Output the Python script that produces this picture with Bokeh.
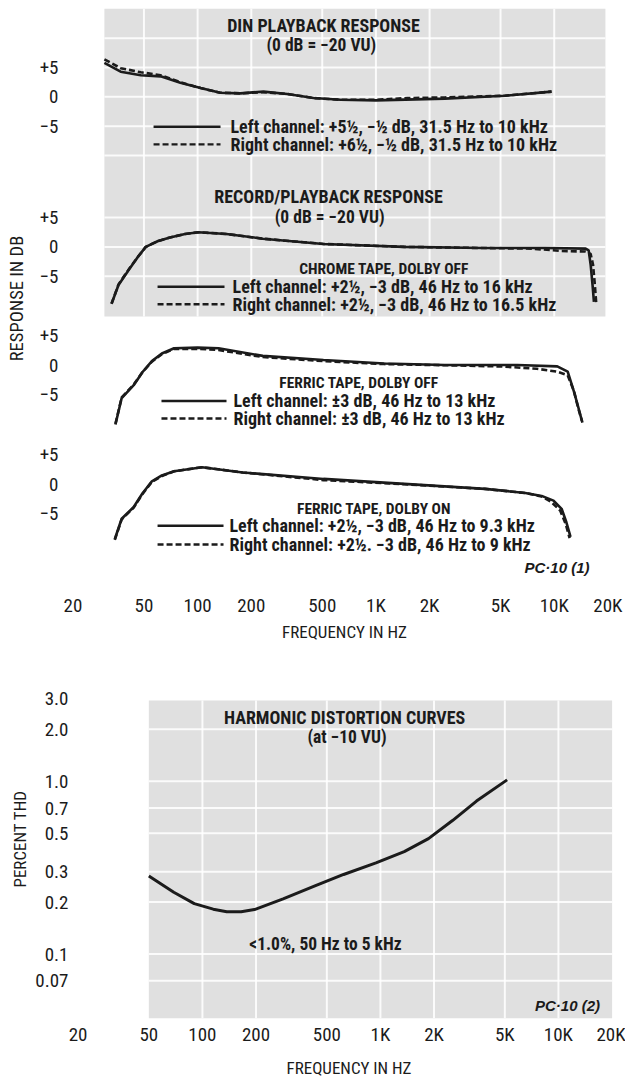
import math
from bokeh.plotting import figure
from bokeh.layouts import column, row
from bokeh.models import FixedTicker, Label, Range1d
from bokeh.core.properties import value
from bokeh.embed import file_html
from bokeh.resources import INLINE

NARROW = "Roboto Condensed"
SANS = "Liberation Sans"
INK = "#1b1b1b"
PAPER = "#e0e0e0"

# ---------------- data ----------------
freq_ticks = [20, 50, 100, 200, 500, 1000, 2000, 5000, 10000, 20000]
freq_tick_labels = ["20", "50", "100", "200", "500", "1K", "2K", "5K", "10K", "20K"]
db_ticks = [5, 0, -5]
db_tick_labels = ["+5", "0", "\u22125"]

# DIN playback response (dB)
din_left_hz = [30, 37, 48, 62, 80, 104, 134, 174, 234, 318, 447, 633, 1000, 2430, 5300, 9660]
din_left_db = [5.8, 4.3, 3.7, 3.5, 2.4, 1.5, 0.7, 0.6, 0.9, 0.5, -0.2, -0.5, -0.6, -0.3, 0.2, 0.9]
din_right_hz = [30, 37, 48, 62, 80, 104, 134, 174, 234, 318, 447, 633, 1000, 1500, 2430, 5300, 9660]
din_right_db = [6.4, 4.9, 4.2, 3.7, 2.5, 1.5, 0.7, 0.6, 0.8, 0.5, -0.2, -0.5, -0.5, -0.2, -0.1, 0.2, 0.9]

# Record/playback, chrome tape, Dolby off
chrome_left_hz = [32.9, 36, 41.6, 46, 51.2, 60, 70, 85, 101, 145, 232, 508, 1440, 4090, 8900, 15000, 15600, 16000, 16400, 16700]
chrome_left_db = [-9.7, -6.5, -3.7, -1.8, 0.0, 1.0, 1.6, 2.2, 2.5, 2.2, 1.4, 0.5, 0.0, -0.2, -0.2, -0.3, -0.6, -3.0, -6.5, -9.4]
chrome_right_hz = [32.9, 36, 41.6, 46, 51.2, 60, 70, 85, 101, 145, 232, 508, 1440, 4090, 7500, 11000, 15000, 16000, 16500, 16900, 17200]
chrome_right_db = [-9.7, -6.4, -3.6, -1.8, 0.0, 1.0, 1.6, 2.2, 2.5, 2.2, 1.4, 0.5, 0.0, -0.2, -0.3, -0.7, -0.8, -1.2, -3.0, -6.5, -9.6]

# Ferric tape, Dolby off
ferric_off_left_hz = [34.6, 37.5, 43.8, 49, 55.4, 63, 73.8, 100, 131, 232, 508, 1110, 2430, 6210, 10400, 11900, 12900, 13600, 14300]
ferric_off_left_db = [-10.1, -5.6, -3.4, -1.2, 0.7, 2.0, 2.9, 3.0, 2.9, 1.6, 0.9, 0.3, 0.05, 0.05, -0.2, -1.1, -4.5, -7.0, -9.5]
ferric_off_right_hz = [34.6, 37.5, 43.8, 49, 55.4, 63, 73.8, 100, 131, 232, 508, 1110, 2430, 5000, 8000, 10400, 11900, 12900, 13600, 14400]
ferric_off_right_db = [-10.0, -5.5, -3.3, -1.2, 0.6, 1.9, 2.8, 2.8, 2.6, 1.4, 0.7, 0.2, 0.0, -0.2, -0.6, -1.1, -1.7, -4.4, -7.2, -9.8]

# Ferric tape, Dolby on
ferric_on_left_hz = [34.3, 37.5, 43.8, 49, 55.4, 63, 73.8, 106, 179, 508, 1440, 4090, 6890, 8500, 9910, 11000, 11700, 12340]
ferric_on_left_db = [-9.4, -5.9, -3.9, -1.6, 0.5, 1.5, 2.2, 2.9, 2.0, 0.9, 0.05, -0.8, -1.5, -2.0, -2.8, -4.2, -6.5, -9.0]
ferric_on_right_hz = [34.3, 37.5, 43.8, 49, 55.4, 63, 73.8, 106, 179, 508, 1440, 4090, 6890, 8500, 9600, 10800, 11600, 12200]
ferric_on_right_db = [-9.5, -6.0, -4.0, -1.7, 0.4, 1.4, 2.2, 2.9, 2.0, 0.7, 0.0, -0.8, -1.5, -2.1, -3.0, -4.5, -6.8, -9.2]

# Harmonic distortion (percent THD at -10 VU)
thd_hz = [50, 69, 90, 115, 137, 165, 196, 284, 432, 621, 944, 1361, 1862, 2541, 3466, 5150]
thd_pct = [0.283, 0.228, 0.196, 0.182, 0.176, 0.176, 0.181, 0.209, 0.249, 0.289, 0.337, 0.392, 0.466, 0.593, 0.769, 1.02]
thd_ticks = [3.0, 2.0, 1.0, 0.7, 0.5, 0.3, 0.2, 0.1, 0.07]
thd_tick_labels = ["3.0", "2.0", "1.0", "0.7", "0.5", "0.3", "0.2", "0.1", "0.07"]

# ---------------- layout constants ----------------
PANEL_OFFSETS = [0.0, -25.6, -45.8, -66.1]   # vertical stacking of the four response panels (dB units)


def label(p, x, y, text, size, font=NARROW, style="bold", align="center", angle=0.0):
    p.add_layout(Label(x=x, y=y, text=text, text_font=font, text_font_size=size,
                       text_font_style=style, text_align=align, text_baseline="middle",
                       text_color=INK, angle=angle))


def style_axes(p):
    for ax in (p.xaxis, p.yaxis):
        ax.axis_line_color = None
        ax.major_tick_line_color = None
        ax.minor_tick_line_color = None
        ax.major_tick_out = 0
        ax.major_tick_in = 0
        ax.major_label_text_font = NARROW
        ax.major_label_text_font_size = "19px"
        ax.major_label_text_color = INK
        ax.axis_label_text_font = NARROW
        ax.axis_label_text_font_style = "normal"
        ax.axis_label_text_color = INK
    p.xgrid.visible = False
    p.ygrid.visible = False
    p.outline_line_color = None
    p.background_fill_color = "white"
    p.border_fill_color = "white"


# ================= Figure 1: response curves =================
p1 = figure(width=625, height=644, x_axis_type="log",
            x_range=Range1d(18.39, 24150), y_range=Range1d(-83.9, 15.08),
            min_border_left=66, min_border_right=3, min_border_top=8, min_border_bottom=52,
            output_backend="svg", toolbar_location=None)
style_axes(p1)

# graph-paper background behind DIN and chrome panels
p1.quad(left=30, right=19370, bottom=-37.5, top=15.08, fill_color=PAPER, line_color=None)
grid_hz = [f for f in freq_ticks if 30 < f < 19370]
p1.segment(x0=grid_hz, x1=grid_hz, y0=[-37.5] * len(grid_hz), y1=[15.08] * len(grid_hz),
           line_color="white", line_width=2, line_alpha=0.85)
grid_db = [round(PANEL_OFFSETS[k] + t, 2) for k in (0, 1) for t in db_ticks] + [10.0, -10.0]
p1.segment(x0=[30] * len(grid_db), x1=[19370] * len(grid_db), y0=grid_db, y1=grid_db,
           line_color="white", line_width=2, line_alpha=0.85)

panels = [
    (din_left_hz, din_left_db, din_right_hz, din_right_db),
    (chrome_left_hz, chrome_left_db, chrome_right_hz, chrome_right_db),
    (ferric_off_left_hz, ferric_off_left_db, ferric_off_right_hz, ferric_off_right_db),
    (ferric_on_left_hz, ferric_on_left_db, ferric_on_right_hz, ferric_on_right_db),
]
for off, (lh, ld, rh, rd) in zip(PANEL_OFFSETS, panels):
    p1.line(rh, [off + d for d in rd], line_color=INK, line_width=2.6, line_dash="6 3")
    p1.line(lh, [off + d for d in ld], line_color=INK, line_width=2.6)

# axes
p1.xaxis.ticker = FixedTicker(ticks=freq_ticks)
p1.xaxis.major_label_overrides = dict(zip(freq_ticks, freq_tick_labels))
p1.xaxis.major_label_standoff = 5
p1.xaxis.axis_label = "FREQUENCY IN HZ"
p1.xaxis.axis_label_text_font_size = "17px"
p1.xaxis.axis_label_standoff = 2

y_ticks, y_over = [], {}
for off in PANEL_OFFSETS:
    for t, lab in zip(db_ticks, db_tick_labels):
        v = round(off + t, 2)
        y_ticks.append(v)
        y_over[v] = lab
p1.yaxis.ticker = FixedTicker(ticks=y_ticks)
p1.yaxis.major_label_overrides = y_over
p1.yaxis.major_label_standoff = 8
p1.yaxis.axis_label = "RESPONSE IN DB"
p1.yaxis.axis_label_text_font_size = "18.5px"
p1.yaxis.axis_label_standoff = 9

# titles and legends
o_din, o_chr, o_fof, o_fon = PANEL_OFFSETS
label(p1, 508, o_din + 12.2, "DIN PLAYBACK RESPONSE", "18px")
label(p1, 494, o_din + 8.8, "(0 dB = \u221220 VU)", "17.5px")
label(p1, 542, o_chr + 8.65, "RECORD/PLAYBACK RESPONSE", "18px")
label(p1, 550, o_chr + 5.1, "(0 dB = \u221220 VU)", "17.5px")
label(p1, 1110, o_chr - 3.7, "CHROME TAPE, DOLBY OFF", "15.5px")
label(p1, 803, o_fof - 3.0, "FERRIC TAPE, DOLBY OFF", "15.5px")
label(p1, 975, o_fon - 4.2, "FERRIC TAPE, DOLBY ON", "15.5px")
label(p1, 10360, o_fon - 14.2, "PC\u00b710 (1)", "15px", font=SANS, style="bold italic")

legends = [
    (o_din - 5.1, o_din - 8.1, 56.6, 134.4, 152.9,
     "Left channel: +5\u00bd, \u2212\u00bd dB, 31.5 Hz to 10 kHz",
     "Right channel: +6\u00bd, \u2212\u00bd dB, 31.5 Hz to 10 kHz"),
    (o_chr - 6.8, o_chr - 9.8, 59.6, 141.5, 157.0,
     "Left channel: +2\u00bd, \u22123 dB, 46 Hz to 16 kHz",
     "Right channel: +2\u00bd, \u22123 dB, 46 Hz to 16.5 kHz"),
    (o_fof - 6.1, o_fof - 9.1, 62.7, 145.2, 158.9,
     "Left channel: \u00b13 dB, 46 Hz to 13 kHz",
     "Right channel: \u00b13 dB, 46 Hz to 13 kHz"),
    (o_fon - 7.1, o_fon - 10.3, 59.6, 139.7, 150.9,
     "Left channel: +2\u00bd, \u22123 dB, 46 Hz to 9.3 kHz",
     "Right channel: +2\u00bd. \u22123 dB, 46 Hz to 9 kHz"),
]
for yl, yr, x0, x1, xt, tl, tr in legends:
    p1.line([x0, x1], [yl, yl], line_color=INK, line_width=2.4)
    p1.line([x0, x1], [yr, yr], line_color=INK, line_width=2.4, line_dash="6 3")
    label(p1, xt, yl, tl, "18px", align="left")
    label(p1, xt, yr, tr, "18px", align="left")

# ================= Figure 2: harmonic distortion =================
TOP2, BOT2 = 49, 54
STRIP = 31
p2 = figure(width=625 - STRIP, height=436, x_axis_type="log", y_axis_type="log",
            x_range=Range1d(19.36, 22910), y_range=Range1d(0.04238, 3.225),
            min_border_left=75 - STRIP, min_border_right=3, min_border_top=TOP2, min_border_bottom=BOT2,
            output_backend="svg", toolbar_location=None)
style_axes(p2)

p2.quad(left=50, right=20030, bottom=0.04238, top=2.94, fill_color=PAPER, line_color=None)
g2x = [f for f in freq_ticks if 50 < f < 20000]
p2.segment(x0=g2x, x1=g2x, y0=[0.04238] * len(g2x), y1=[2.94] * len(g2x),
           line_color="white", line_width=2, line_alpha=0.85)
g2y = [v for v in thd_ticks if v < 2.94]
p2.segment(x0=[50] * len(g2y), x1=[20030] * len(g2y), y0=g2y, y1=g2y,
           line_color="white", line_width=2, line_alpha=0.85)

p2.line(thd_hz, thd_pct, line_color=INK, line_width=3)

p2.xaxis.ticker = FixedTicker(ticks=freq_ticks)
p2.xaxis.major_label_overrides = dict(zip(freq_ticks, freq_tick_labels))
p2.xaxis.major_label_standoff = 4
p2.xaxis.axis_label = "FREQUENCY IN HZ"
p2.xaxis.axis_label_text_font_size = "17px"
p2.xaxis.axis_label_standoff = 9

p2.yaxis.ticker = FixedTicker(ticks=thd_ticks)
p2.yaxis.major_label_overrides = dict(zip(thd_ticks, thd_tick_labels))
p2.yaxis.major_label_standoff = 7

label(p2, 629, 2.33, "HARMONIC DISTORTION CURVES", "18px")
label(p2, 649, 1.795, "(at \u221210 VU)", "17.5px")
label(p2, 491, 0.114, "<1.0%, 50 Hz to 5 kHz", "17.5px")
label(p2, 11250, 0.0502, "PC\u00b710 (2)", "15px", font=SANS, style="bold italic")

# narrow strip carrying the rotated y-axis title of the distortion chart
pl = figure(width=STRIP, height=436, x_range=Range1d(0, 1), y_axis_type="log", y_range=p2.y_range,
            min_border_left=0, min_border_right=0, min_border_top=TOP2, min_border_bottom=BOT2,
            x_axis_location=None, y_axis_location=None,
            output_backend="svg", toolbar_location=None)
pl.xgrid.visible = False
pl.ygrid.visible = False
pl.outline_line_color = None
pl.text(x=[0.64], y=[0.464], text=["PERCENT THD"], angle=math.pi / 2,
        text_font=value(NARROW), text_font_size="17px", text_align="center",
        text_baseline="middle", text_color=INK)

layout = column(p1, row(pl, p2))
open("out.html", "w").write(file_html(layout, INLINE))
